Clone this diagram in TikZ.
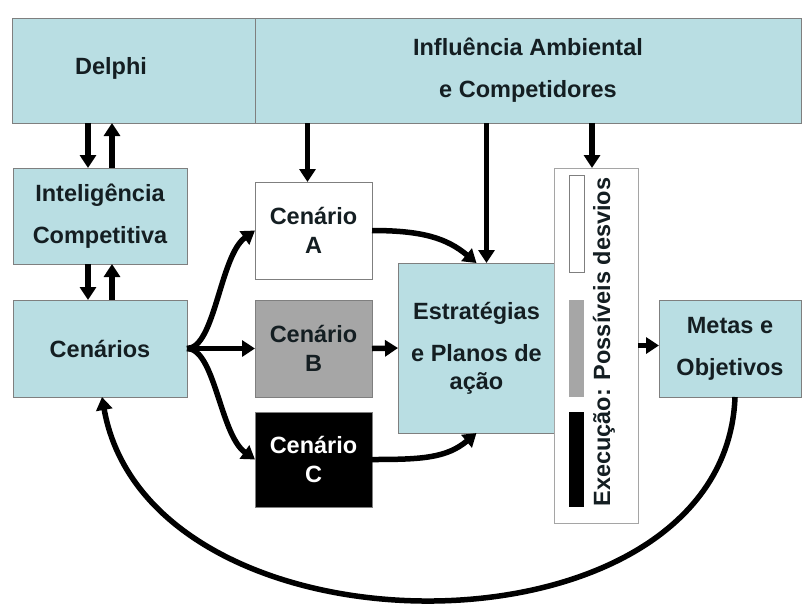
\documentclass[tikz,border=0pt]{standalone}
\usepackage{fontspec}
\setmainfont{Liberation Sans}
\usepackage{tikz}
\usetikzlibrary{arrows.meta,calc}
\definecolor{boxfill}{HTML}{B9DEE3}
\definecolor{boxline}{HTML}{7F7F7F}
\definecolor{midgray}{HTML}{A6A6A6}
\definecolor{ink}{HTML}{141E22}

\begin{document}
\begin{tikzpicture}[x=1pt, y=-1pt, >={Triangle[length=13pt,width=16pt]},
    box/.style={draw=boxline, line width=0.8pt, inner sep=0pt, outer sep=0pt, align=center,
        text=ink, font=\fontsize{23.5}{42}\selectfont\bfseries},
    bluebox/.style={box, fill=boxfill},
    scen/.style={box, minimum width=117pt, minimum height=97pt,
        font=\fontsize{23.5}{29}\selectfont\bfseries},
    txt/.style={inner sep=0pt, text=ink, font=\fontsize{23.5}{28}\selectfont\bfseries},
    arr/.style={->, line width=5.5pt}]
    \useasboundingbox (0,0) rectangle (802,606);

    % Top band
    \node[bluebox, minimum width=243pt, minimum height=105pt] (delphi) at (133.5,70.5) {};
    \node[txt] (delphitxt) at (111,68) {Delphi};
    \node[bluebox, minimum width=546pt, minimum height=105pt] (amb) at (528,70.5)
        {Influência Ambiental\\e Competidores};

    % Left column
    \node[bluebox, minimum width=174pt, minimum height=96pt] (intel) at (100,216)
        {Inteligência\\Competitiva};
    \node[bluebox, minimum width=174pt, minimum height=97pt] (cen) at (100,348.5) {Cenários};

    % Scenarios
    \node[scen, fill=white] (cenA) at (313.5,230.5) {Cenário\\A};
    \node[scen, fill=midgray] (cenB) at (313.5,348.5) {Cenário\\B};
    \node[scen, fill=black, text=white, minimum height=95pt] (cenC) at (313.5,459.5) {Cenário\\C};

    % Strategies and goals
    \node[bluebox, minimum width=157pt, minimum height=170pt,
        font=\fontsize{23.5}{28}\selectfont\bfseries] (estr) at (476.5,348)
        {Estratégias\\[14pt]e Planos de\\ação};
    \node[box, fill=white, draw=boxline!70, minimum width=84pt, minimum height=355pt]
        (exec) at (596,345.5) {};
    \draw[boxline, line width=0.8pt, fill=white] (569,175) rectangle (584,272);
    \fill[midgray] (569,300) rectangle (584,397);
    \fill[black] (569,412) rectangle (584,507);
    \node[txt, rotate=90] (desvios) at (604,342) {Execução: Possíveis desvios};
    \node[bluebox, minimum width=142pt, minimum height=97pt] (metas) at (730,348.5)
        {Metas e\\Objetivos};

    % Vertical arrows
    \draw[arr] ([xshift=-12pt]intel.north |- delphi.south) -- ([xshift=-12pt]intel.north);
    \draw[arr] ([xshift=12pt]intel.north) -- ([xshift=12pt]intel.north |- delphi.south);
    \draw[arr] ([xshift=-12pt]cen.north |- intel.south) -- ([xshift=-12pt]cen.north);
    \draw[arr] ([xshift=12pt]cen.north) -- ([xshift=12pt]cen.north |- intel.south);
    \draw[arr] ([xshift=-6pt]cenA.north |- amb.south) -- ([xshift=-6pt]cenA.north);
    \draw[arr] ([xshift=10pt]estr.north |- amb.south) -- ([xshift=10pt]estr.north);
    \draw[arr] ([xshift=-4pt]exec.north |- amb.south) -- ([xshift=-4pt]exec.north);

    % Scenario flow
    \draw[arr] (cen.east) .. controls +(28,0) and +(-35,25) .. (cenA.west);
    \draw[arr] (cen.east) -- (cenB.west);
    \draw[arr] (cen.east) .. controls +(28,0) and +(-35,-25) .. (cenC.west);
    \draw[arr] (cenA.east) .. controls +(50,0) and +(-30,-25) .. (estr.north);
    \draw[arr] (cenB.east) -- (estr.west);
    \draw[arr] (cenC.east) .. controls +(50,0) and +(-30,25) .. (estr.south);
    \draw[arr] (exec.east) -- (exec.east -| metas.west);

    % Feedback
    \draw[arr] ([xshift=5pt]metas.south) .. controls +(-10,270) and +(48,270)
        .. ([xshift=2pt]cen.south);
\end{tikzpicture}
\end{document}
